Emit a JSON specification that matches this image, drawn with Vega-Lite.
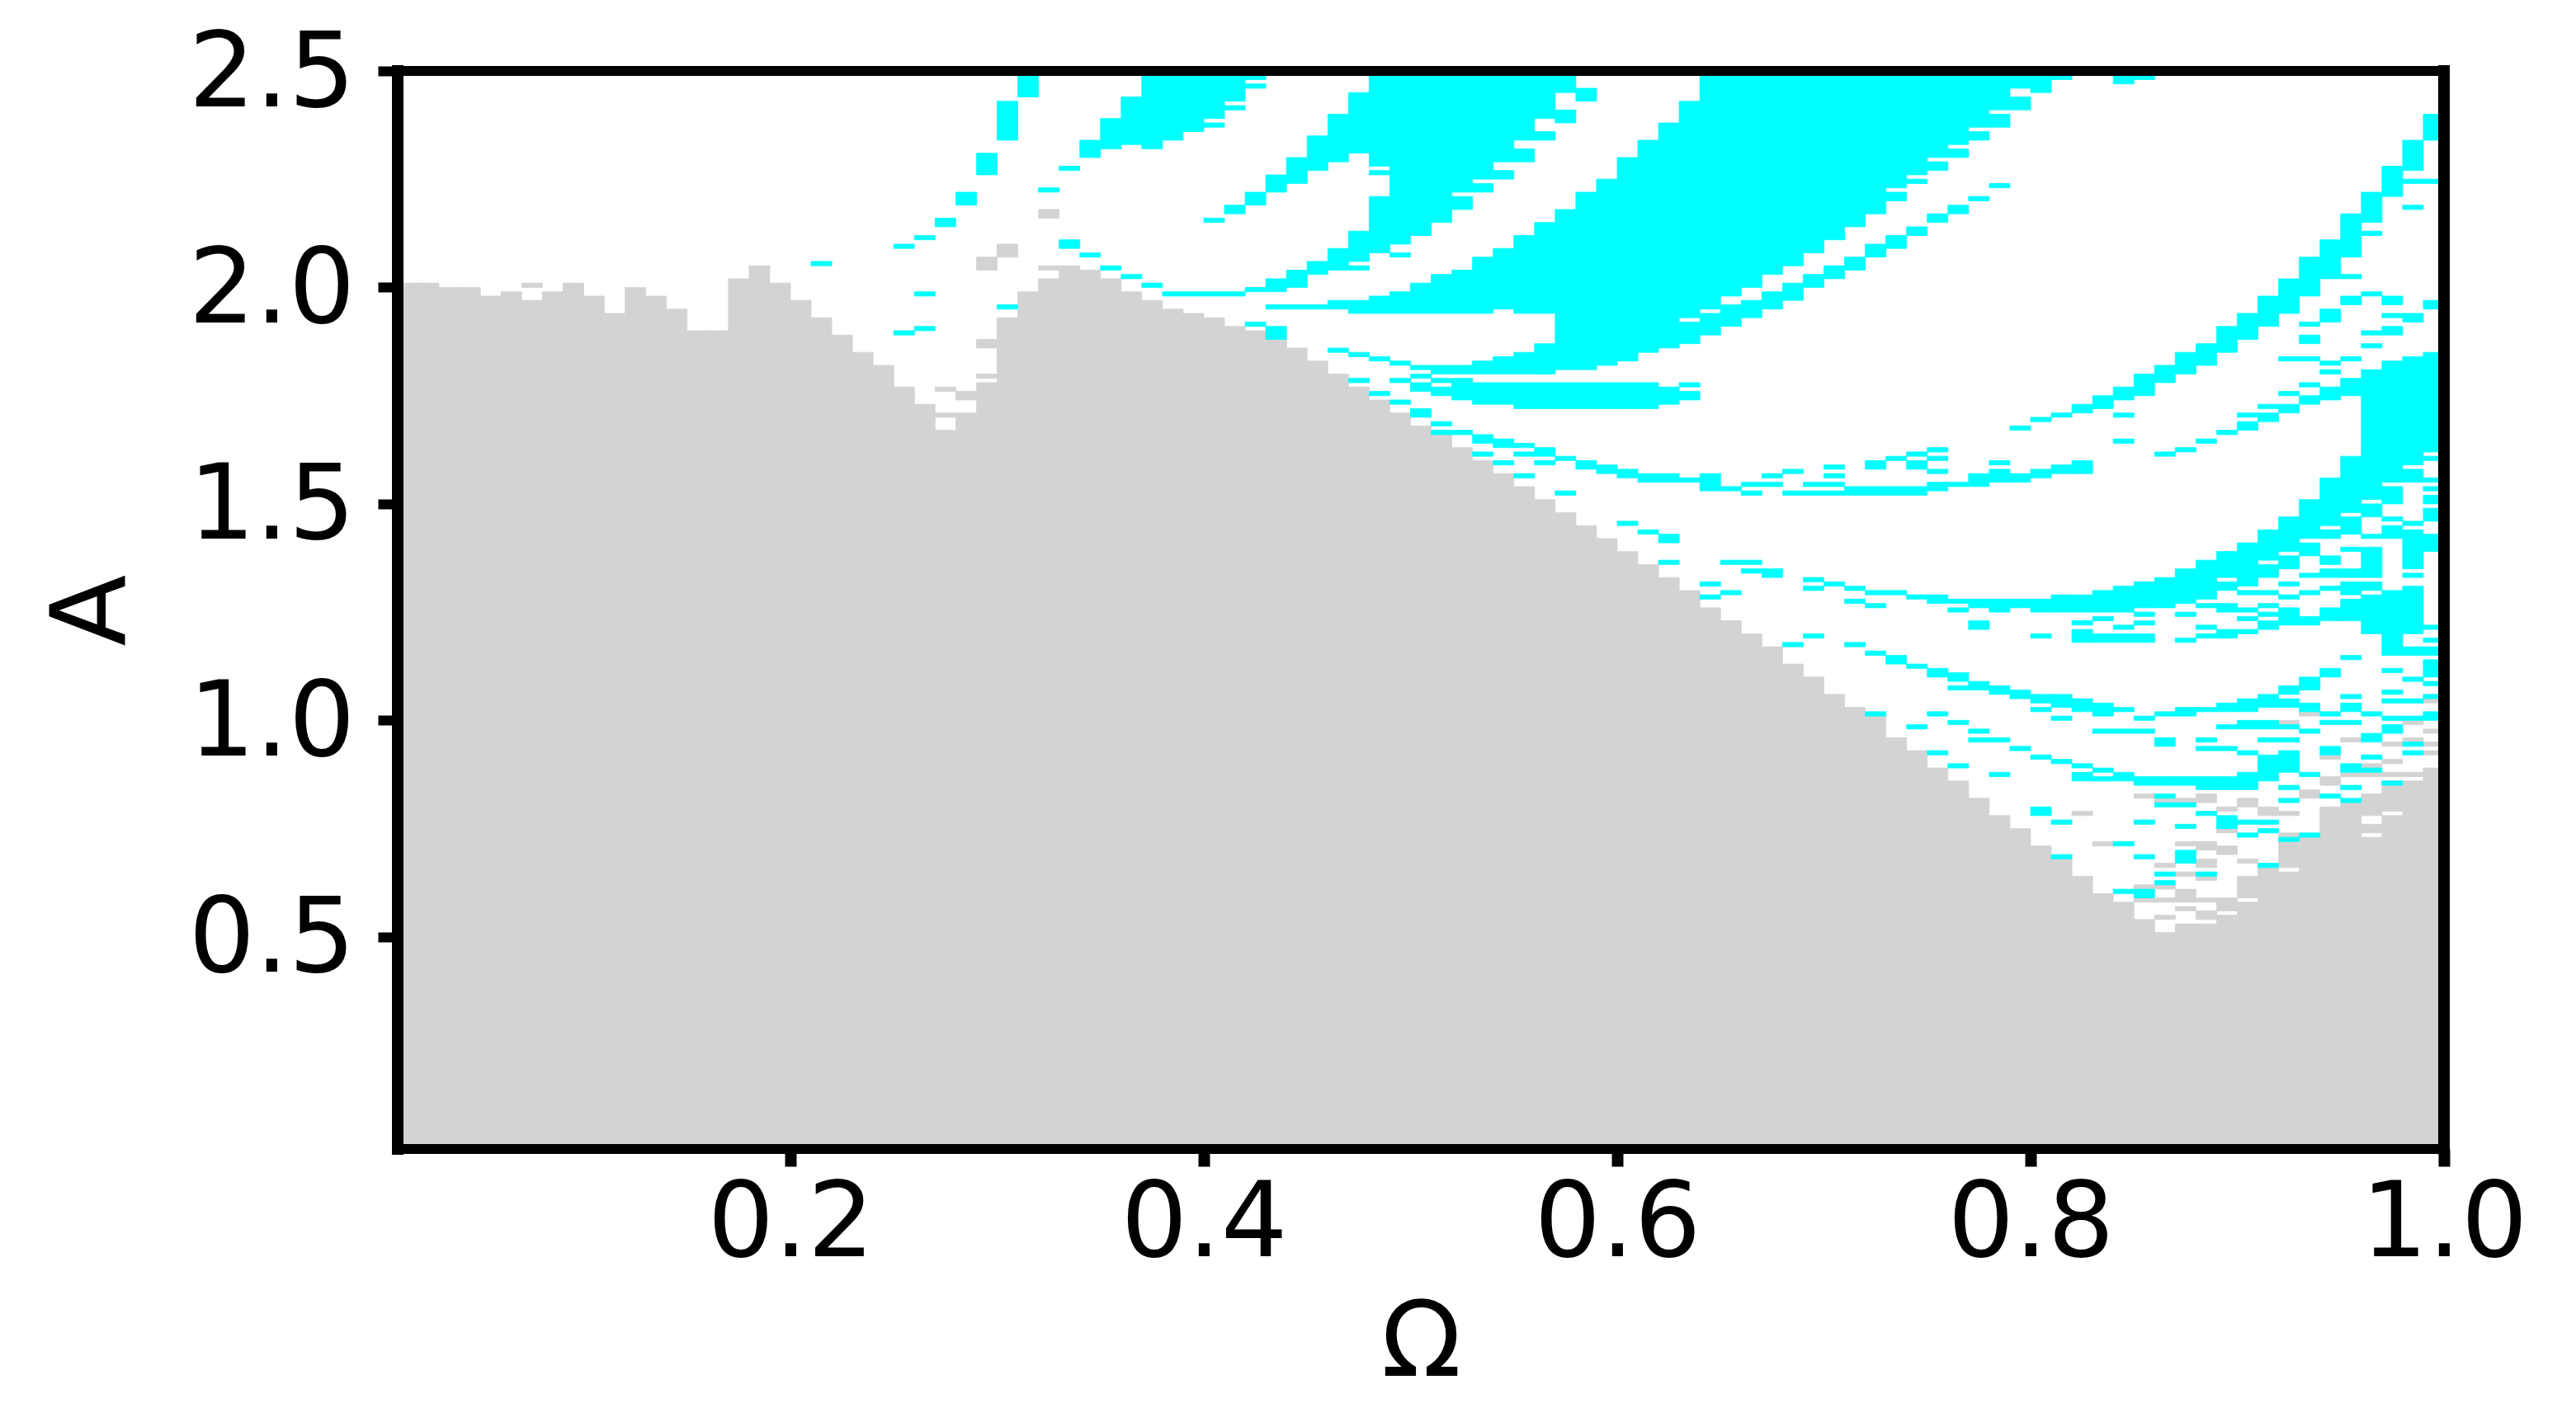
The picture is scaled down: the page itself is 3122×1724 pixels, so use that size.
{"$schema":"https://vega.github.io/schema/vega-lite/v6.json","width":2480,"height":1307,"autosize":"none","padding":{"left":482,"top":86,"right":160,"bottom":331},"background":"white","config":{"view":{"stroke":null},"font":"DejaVu Sans"},
"data":{"values":[
{"w":0.01,"w2":0.02,"a":0.01,"b":2.01,"s":"g"},{"w":0.02,"w2":0.03,"a":0.01,"b":2.01,"s":"g"},{"w":0.03,"w2":0.04,"a":0.01,"b":2.0,"s":"g"},{"w":0.04,"w2":0.05,"a":0.01,"b":2.0,"s":"g"},{"w":0.05,"w2":0.06,"a":0.01,"b":1.98,"s":"g"},{"w":0.06,"w2":0.07,"a":0.01,"b":1.99,"s":"g"},{"w":0.07,"w2":0.08,"a":0.01,"b":1.97,"s":"g"},{"w":0.07,"w2":0.08,"a":2.0,"b":2.01,"s":"g"},{"w":0.08,"w2":0.09,"a":0.01,"b":1.99,"s":"g"},{"w":0.09,"w2":0.1,"a":0.01,"b":2.01,"s":"g"},{"w":0.1,"w2":0.11,"a":0.01,"b":1.98,"s":"g"},{"w":0.11,"w2":0.12,"a":0.01,"b":1.94,"s":"g"},{"w":0.12,"w2":0.13,"a":0.01,"b":2.0,"s":"g"},{"w":0.13,"w2":0.14,"a":0.01,"b":1.98,"s":"g"},{"w":0.14,"w2":0.15,"a":0.01,"b":1.95,"s":"g"},{"w":0.15,"w2":0.16,"a":0.01,"b":1.9,"s":"g"},{"w":0.16,"w2":0.17,"a":0.01,"b":1.9,"s":"g"},{"w":0.17,"w2":0.18,"a":0.01,"b":2.02,"s":"g"},{"w":0.18,"w2":0.19,"a":0.01,"b":2.05,"s":"g"},{"w":0.19,"w2":0.2,"a":0.01,"b":2.01,"s":"g"},{"w":0.2,"w2":0.21,"a":0.01,"b":1.97,"s":"g"},{"w":0.21,"w2":0.22,"a":0.01,"b":1.93,"s":"g"},{"w":0.22,"w2":0.23,"a":0.01,"b":1.89,"s":"g"},{"w":0.23,"w2":0.24,"a":0.01,"b":1.85,"s":"g"},{"w":0.24,"w2":0.25,"a":0.01,"b":1.82,"s":"g"},{"w":0.25,"w2":0.26,"a":0.01,"b":1.77,"s":"g"},{"w":0.26,"w2":0.27,"a":0.01,"b":1.73,"s":"g"},
{"w":0.27,"w2":0.28,"a":0.01,"b":1.67,"s":"g"},{"w":0.27,"w2":0.28,"a":1.7,"b":1.71,"s":"g"},{"w":0.27,"w2":0.28,"a":1.76,"b":1.77,"s":"g"},
{"w":0.28,"w2":0.29,"a":0.01,"b":1.71,"s":"g"},{"w":0.28,"w2":0.29,"a":1.74,"b":1.76,"s":"g"},
{"w":0.29,"w2":0.3,"a":0.01,"b":1.78,"s":"g"},{"w":0.29,"w2":0.3,"a":1.79,"b":1.8,"s":"g"},{"w":0.29,"w2":0.3,"a":1.86,"b":1.88,"s":"g"},{"w":0.29,"w2":0.3,"a":2.04,"b":2.07,"s":"g"},
{"w":0.3,"w2":0.31,"a":0.01,"b":1.93,"s":"g"},{"w":0.3,"w2":0.31,"a":2.07,"b":2.1,"s":"g"},
{"w":0.31,"w2":0.32,"a":0.01,"b":1.99,"s":"g"},
{"w":0.32,"w2":0.33,"a":0.01,"b":2.02,"s":"g"},{"w":0.32,"w2":0.33,"a":2.04,"b":2.05,"s":"g"},{"w":0.32,"w2":0.33,"a":2.16,"b":2.18,"s":"g"},
{"w":0.33,"w2":0.34,"a":0.01,"b":2.05,"s":"g"},{"w":0.34,"w2":0.35,"a":0.01,"b":2.04,"s":"g"},{"w":0.35,"w2":0.36,"a":0.01,"b":2.02,"s":"g"},{"w":0.36,"w2":0.37,"a":0.01,"b":1.99,"s":"g"},{"w":0.37,"w2":0.38,"a":0.01,"b":1.97,"s":"g"},{"w":0.38,"w2":0.39,"a":0.01,"b":1.95,"s":"g"},{"w":0.39,"w2":0.4,"a":0.01,"b":1.94,"s":"g"},{"w":0.4,"w2":0.41,"a":0.01,"b":1.93,"s":"g"},{"w":0.41,"w2":0.42,"a":0.01,"b":1.91,"s":"g"},{"w":0.42,"w2":0.43,"a":0.01,"b":1.9,"s":"g"},{"w":0.43,"w2":0.44,"a":0.01,"b":1.88,"s":"g"},{"w":0.44,"w2":0.45,"a":0.01,"b":1.86,"s":"g"},{"w":0.45,"w2":0.46,"a":0.01,"b":1.83,"s":"g"},{"w":0.46,"w2":0.47,"a":0.01,"b":1.8,"s":"g"},{"w":0.47,"w2":0.48,"a":0.01,"b":1.77,"s":"g"},{"w":0.48,"w2":0.49,"a":0.01,"b":1.74,"s":"g"},{"w":0.49,"w2":0.5,"a":0.01,"b":1.71,"s":"g"},{"w":0.5,"w2":0.51,"a":0.01,"b":1.68,"s":"g"},{"w":0.51,"w2":0.52,"a":0.01,"b":1.66,"s":"g"},{"w":0.52,"w2":0.53,"a":0.01,"b":1.63,"s":"g"},{"w":0.53,"w2":0.54,"a":0.01,"b":1.6,"s":"g"},{"w":0.54,"w2":0.55,"a":0.01,"b":1.57,"s":"g"},{"w":0.55,"w2":0.56,"a":0.01,"b":1.54,"s":"g"},{"w":0.56,"w2":0.57,"a":0.01,"b":1.51,"s":"g"},{"w":0.57,"w2":0.58,"a":0.01,"b":1.48,"s":"g"},{"w":0.58,"w2":0.59,"a":0.01,"b":1.45,"s":"g"},{"w":0.59,"w2":0.6,"a":0.01,"b":1.42,"s":"g"},{"w":0.6,"w2":0.61,"a":0.01,"b":1.39,"s":"g"},{"w":0.61,"w2":0.62,"a":0.01,"b":1.36,"s":"g"},{"w":0.62,"w2":0.63,"a":0.01,"b":1.33,"s":"g"},{"w":0.63,"w2":0.64,"a":0.01,"b":1.3,"s":"g"},{"w":0.64,"w2":0.65,"a":0.01,"b":1.26,"s":"g"},{"w":0.65,"w2":0.66,"a":0.01,"b":1.23,"s":"g"},{"w":0.66,"w2":0.67,"a":0.01,"b":1.2,"s":"g"},{"w":0.67,"w2":0.68,"a":0.01,"b":1.17,"s":"g"},{"w":0.68,"w2":0.69,"a":0.01,"b":1.13,"s":"g"},{"w":0.69,"w2":0.7,"a":0.01,"b":1.1,"s":"g"},{"w":0.7,"w2":0.71,"a":0.01,"b":1.06,"s":"g"},{"w":0.71,"w2":0.72,"a":0.01,"b":1.03,"s":"g"},{"w":0.72,"w2":0.73,"a":0.01,"b":1.01,"s":"g"},{"w":0.73,"w2":0.74,"a":0.01,"b":0.96,"s":"g"},{"w":0.74,"w2":0.75,"a":0.01,"b":0.93,"s":"g"},{"w":0.75,"w2":0.76,"a":0.01,"b":0.89,"s":"g"},{"w":0.76,"w2":0.77,"a":0.01,"b":0.86,"s":"g"},{"w":0.77,"w2":0.78,"a":0.01,"b":0.82,"s":"g"},{"w":0.78,"w2":0.79,"a":0.01,"b":0.78,"s":"g"},{"w":0.79,"w2":0.8,"a":0.01,"b":0.75,"s":"g"},{"w":0.8,"w2":0.81,"a":0.01,"b":0.71,"s":"g"},{"w":0.81,"w2":0.82,"a":0.01,"b":0.68,"s":"g"},{"w":0.82,"w2":0.83,"a":0.01,"b":0.64,"s":"g"},{"w":0.83,"w2":0.84,"a":0.01,"b":0.6,"s":"g"},{"w":0.84,"w2":0.85,"a":0.01,"b":0.58,"s":"g"},
{"w":0.82,"w2":0.83,"a":0.78,"b":0.79,"s":"g"},{"w":0.83,"w2":0.84,"a":0.71,"b":0.72,"s":"g"},
{"w":0.85,"w2":0.86,"a":0.01,"b":0.54,"s":"g"},{"w":0.85,"w2":0.86,"a":0.58,"b":0.59,"s":"g"},{"w":0.85,"w2":0.86,"a":0.61,"b":0.62,"s":"g"},{"w":0.85,"w2":0.86,"a":0.82,"b":0.83,"s":"g"},
{"w":0.86,"w2":0.87,"a":0.01,"b":0.51,"s":"g"},{"w":0.86,"w2":0.87,"a":0.54,"b":0.55,"s":"g"},{"w":0.86,"w2":0.87,"a":0.58,"b":0.59,"s":"g"},{"w":0.86,"w2":0.87,"a":0.61,"b":0.62,"s":"g"},{"w":0.86,"w2":0.87,"a":0.66,"b":0.67,"s":"g"},{"w":0.86,"w2":0.87,"a":0.81,"b":0.82,"s":"g"},
{"w":0.87,"w2":0.88,"a":0.01,"b":0.53,"s":"g"},{"w":0.87,"w2":0.88,"a":0.56,"b":0.57,"s":"g"},{"w":0.87,"w2":0.88,"a":0.58,"b":0.61,"s":"g"},{"w":0.87,"w2":0.88,"a":0.64,"b":0.65,"s":"g"},{"w":0.87,"w2":0.88,"a":0.71,"b":0.72,"s":"g"},{"w":0.87,"w2":0.88,"a":0.81,"b":0.82,"s":"g"},
{"w":0.88,"w2":0.89,"a":0.01,"b":0.53,"s":"g"},{"w":0.88,"w2":0.89,"a":0.54,"b":0.56,"s":"g"},{"w":0.88,"w2":0.89,"a":0.58,"b":0.59,"s":"g"},{"w":0.88,"w2":0.89,"a":0.63,"b":0.64,"s":"g"},{"w":0.88,"w2":0.89,"a":0.66,"b":0.68,"s":"g"},{"w":0.88,"w2":0.89,"a":0.7,"b":0.72,"s":"g"},{"w":0.88,"w2":0.89,"a":0.81,"b":0.83,"s":"g"},
{"w":0.89,"w2":0.9,"a":0.01,"b":0.55,"s":"g"},{"w":0.89,"w2":0.9,"a":0.56,"b":0.59,"s":"g"},{"w":0.89,"w2":0.9,"a":0.69,"b":0.71,"s":"g"},{"w":0.89,"w2":0.9,"a":0.74,"b":0.75,"s":"g"},{"w":0.89,"w2":0.9,"a":0.79,"b":0.8,"s":"g"},
{"w":0.9,"w2":0.91,"a":0.01,"b":0.58,"s":"g"},{"w":0.9,"w2":0.91,"a":0.59,"b":0.64,"s":"g"},{"w":0.9,"w2":0.91,"a":0.67,"b":0.68,"s":"g"},{"w":0.9,"w2":0.91,"a":0.8,"b":0.82,"s":"g"},
{"w":0.91,"w2":0.92,"a":0.01,"b":0.66,"s":"g"},{"w":0.91,"w2":0.92,"a":0.78,"b":0.8,"s":"g"},
{"w":0.92,"w2":0.93,"a":0.01,"b":0.65,"s":"g"},{"w":0.92,"w2":0.93,"a":0.66,"b":0.72,"s":"g"},{"w":0.92,"w2":0.93,"a":0.73,"b":0.74,"s":"g"},{"w":0.92,"w2":0.93,"a":0.78,"b":0.79,"s":"g"},{"w":0.92,"w2":0.93,"a":0.99,"b":1.0,"s":"g"},
{"w":0.93,"w2":0.94,"a":0.01,"b":0.73,"s":"g"},{"w":0.93,"w2":0.94,"a":0.82,"b":0.84,"s":"g"},{"w":0.93,"w2":0.94,"a":1.01,"b":1.02,"s":"g"},
{"w":0.94,"w2":0.95,"a":0.01,"b":0.8,"s":"g"},{"w":0.94,"w2":0.95,"a":0.85,"b":0.87,"s":"g"},{"w":0.94,"w2":0.95,"a":0.91,"b":0.92,"s":"g"},
{"w":0.95,"w2":0.96,"a":0.01,"b":0.81,"s":"g"},{"w":0.95,"w2":0.96,"a":0.87,"b":0.88,"s":"g"},{"w":0.95,"w2":0.96,"a":0.95,"b":0.96,"s":"g"},
{"w":0.96,"w2":0.97,"a":0.01,"b":0.73,"s":"g"},{"w":0.96,"w2":0.97,"a":0.74,"b":0.76,"s":"g"},{"w":0.96,"w2":0.97,"a":0.78,"b":0.83,"s":"g"},{"w":0.96,"w2":0.97,"a":0.87,"b":0.88,"s":"g"},{"w":0.96,"w2":0.97,"a":0.89,"b":0.9,"s":"g"},
{"w":0.97,"w2":0.98,"a":0.01,"b":0.78,"s":"g"},{"w":0.97,"w2":0.98,"a":0.79,"b":0.86,"s":"g"},{"w":0.97,"w2":0.98,"a":0.87,"b":0.88,"s":"g"},{"w":0.97,"w2":0.98,"a":0.9,"b":0.91,"s":"g"},{"w":0.97,"w2":0.98,"a":0.94,"b":0.95,"s":"g"},
{"w":0.98,"w2":0.99,"a":0.01,"b":0.86,"s":"g"},{"w":0.98,"w2":0.99,"a":0.87,"b":0.88,"s":"g"},{"w":0.98,"w2":0.99,"a":0.95,"b":0.96,"s":"g"},{"w":0.98,"w2":0.99,"a":0.99,"b":1.0,"s":"g"},
{"w":0.99,"w2":1.0,"a":0.01,"b":0.89,"s":"g"},{"w":0.99,"w2":1.0,"a":0.92,"b":0.93,"s":"g"},{"w":0.99,"w2":1.0,"a":0.94,"b":0.95,"s":"g"},{"w":0.99,"w2":1.0,"a":0.97,"b":0.98,"s":"g"},{"w":0.99,"w2":1.0,"a":1.04,"b":1.05,"s":"g"},
{"w":0.21,"w2":0.22,"a":2.05,"b":2.06,"s":"c"},
{"w":0.25,"w2":0.26,"a":1.89,"b":1.9,"s":"c"},{"w":0.25,"w2":0.26,"a":2.09,"b":2.1,"s":"c"},
{"w":0.26,"w2":0.27,"a":1.9,"b":1.91,"s":"c"},{"w":0.26,"w2":0.27,"a":1.98,"b":1.99,"s":"c"},{"w":0.26,"w2":0.27,"a":2.11,"b":2.12,"s":"c"},
{"w":0.27,"w2":0.28,"a":2.14,"b":2.16,"s":"c"},
{"w":0.28,"w2":0.29,"a":2.19,"b":2.22,"s":"c"},
{"w":0.29,"w2":0.3,"a":2.26,"b":2.31,"s":"c"},
{"w":0.3,"w2":0.31,"a":1.95,"b":1.96,"s":"c"},{"w":0.3,"w2":0.31,"a":2.34,"b":2.43,"s":"c"},
{"w":0.31,"w2":0.32,"a":2.44,"b":2.5,"s":"c"},
{"w":0.32,"w2":0.33,"a":2.22,"b":2.23,"s":"c"},
{"w":0.33,"w2":0.34,"a":2.09,"b":2.11,"s":"c"},{"w":0.33,"w2":0.34,"a":2.27,"b":2.28,"s":"c"},
{"w":0.34,"w2":0.35,"a":2.07,"b":2.08,"s":"c"},{"w":0.34,"w2":0.35,"a":2.3,"b":2.34,"s":"c"},
{"w":0.35,"w2":0.36,"a":2.04,"b":2.05,"s":"c"},{"w":0.35,"w2":0.36,"a":2.32,"b":2.39,"s":"c"},
{"w":0.36,"w2":0.37,"a":2.02,"b":2.03,"s":"c"},{"w":0.36,"w2":0.37,"a":2.33,"b":2.44,"s":"c"},
{"w":0.37,"w2":0.38,"a":2.0,"b":2.01,"s":"c"},{"w":0.37,"w2":0.38,"a":2.32,"b":2.5,"s":"c"},
{"w":0.38,"w2":0.39,"a":1.98,"b":1.99,"s":"c"},{"w":0.38,"w2":0.39,"a":2.34,"b":2.5,"s":"c"},
{"w":0.39,"w2":0.4,"a":1.98,"b":1.99,"s":"c"},{"w":0.39,"w2":0.4,"a":2.36,"b":2.5,"s":"c"},
{"w":0.4,"w2":0.41,"a":1.98,"b":1.99,"s":"c"},{"w":0.4,"w2":0.41,"a":2.15,"b":2.16,"s":"c"},{"w":0.4,"w2":0.41,"a":2.37,"b":2.38,"s":"c"},{"w":0.4,"w2":0.41,"a":2.39,"b":2.5,"s":"c"},
{"w":0.41,"w2":0.42,"a":1.98,"b":1.99,"s":"c"},{"w":0.41,"w2":0.42,"a":2.17,"b":2.19,"s":"c"},{"w":0.41,"w2":0.42,"a":2.41,"b":2.42,"s":"c"},{"w":0.41,"w2":0.42,"a":2.43,"b":2.5,"s":"c"},
{"w":0.42,"w2":0.43,"a":1.91,"b":1.92,"s":"c"},{"w":0.42,"w2":0.43,"a":1.99,"b":2.0,"s":"c"},{"w":0.42,"w2":0.43,"a":2.19,"b":2.22,"s":"c"},{"w":0.42,"w2":0.43,"a":2.46,"b":2.47,"s":"c"},{"w":0.42,"w2":0.43,"a":2.48,"b":2.5,"s":"c"},
{"w":0.43,"w2":0.44,"a":1.88,"b":1.91,"s":"c"},{"w":0.43,"w2":0.44,"a":1.95,"b":1.96,"s":"c"},{"w":0.43,"w2":0.44,"a":1.99,"b":2.02,"s":"c"},{"w":0.43,"w2":0.44,"a":2.22,"b":2.26,"s":"c"},
{"w":0.44,"w2":0.45,"a":1.95,"b":1.96,"s":"c"},{"w":0.44,"w2":0.45,"a":2.0,"b":2.04,"s":"c"},{"w":0.44,"w2":0.45,"a":2.24,"b":2.3,"s":"c"},
{"w":0.45,"w2":0.46,"a":1.95,"b":1.96,"s":"c"},{"w":0.45,"w2":0.46,"a":2.03,"b":2.06,"s":"c"},{"w":0.45,"w2":0.46,"a":2.27,"b":2.35,"s":"c"},
{"w":0.46,"w2":0.47,"a":1.85,"b":1.86,"s":"c"},{"w":0.46,"w2":0.47,"a":1.95,"b":1.97,"s":"c"},{"w":0.46,"w2":0.47,"a":2.04,"b":2.09,"s":"c"},{"w":0.46,"w2":0.47,"a":2.29,"b":2.4,"s":"c"},
{"w":0.47,"w2":0.48,"a":1.78,"b":1.79,"s":"c"},{"w":0.47,"w2":0.48,"a":1.84,"b":1.85,"s":"c"},{"w":0.47,"w2":0.48,"a":1.94,"b":1.97,"s":"c"},{"w":0.47,"w2":0.48,"a":2.04,"b":2.05,"s":"c"},{"w":0.47,"w2":0.48,"a":2.06,"b":2.13,"s":"c"},{"w":0.47,"w2":0.48,"a":2.31,"b":2.45,"s":"c"},
{"w":0.48,"w2":0.49,"a":1.75,"b":1.76,"s":"c"},{"w":0.48,"w2":0.49,"a":1.83,"b":1.84,"s":"c"},{"w":0.48,"w2":0.49,"a":1.94,"b":1.98,"s":"c"},{"w":0.48,"w2":0.49,"a":2.08,"b":2.21,"s":"c"},{"w":0.48,"w2":0.49,"a":2.26,"b":2.27,"s":"c"},{"w":0.48,"w2":0.49,"a":2.28,"b":2.5,"s":"c"},
{"w":0.49,"w2":0.5,"a":1.73,"b":1.74,"s":"c"},{"w":0.49,"w2":0.5,"a":1.78,"b":1.79,"s":"c"},{"w":0.49,"w2":0.5,"a":1.82,"b":1.83,"s":"c"},{"w":0.49,"w2":0.5,"a":1.94,"b":1.99,"s":"c"},{"w":0.49,"w2":0.5,"a":2.07,"b":2.08,"s":"c"},{"w":0.49,"w2":0.5,"a":2.1,"b":2.5,"s":"c"},
{"w":0.5,"w2":0.51,"a":1.7,"b":1.72,"s":"c"},{"w":0.5,"w2":0.51,"a":1.76,"b":1.78,"s":"c"},{"w":0.5,"w2":0.51,"a":1.79,"b":1.8,"s":"c"},{"w":0.5,"w2":0.51,"a":1.81,"b":1.82,"s":"c"},{"w":0.5,"w2":0.51,"a":1.94,"b":2.01,"s":"c"},{"w":0.5,"w2":0.51,"a":2.12,"b":2.5,"s":"c"},
{"w":0.51,"w2":0.52,"a":1.66,"b":1.67,"s":"c"},{"w":0.51,"w2":0.52,"a":1.68,"b":1.69,"s":"c"},{"w":0.51,"w2":0.52,"a":1.75,"b":1.77,"s":"c"},{"w":0.51,"w2":0.52,"a":1.78,"b":1.79,"s":"c"},{"w":0.51,"w2":0.52,"a":1.8,"b":1.82,"s":"c"},{"w":0.51,"w2":0.52,"a":1.94,"b":2.03,"s":"c"},{"w":0.51,"w2":0.52,"a":2.15,"b":2.5,"s":"c"},
{"w":0.52,"w2":0.53,"a":1.66,"b":1.67,"s":"c"},{"w":0.52,"w2":0.53,"a":1.74,"b":1.79,"s":"c"},{"w":0.52,"w2":0.53,"a":1.8,"b":1.82,"s":"c"},{"w":0.52,"w2":0.53,"a":1.94,"b":2.04,"s":"c"},{"w":0.52,"w2":0.53,"a":2.18,"b":2.21,"s":"c"},{"w":0.52,"w2":0.53,"a":2.22,"b":2.5,"s":"c"},
{"w":0.53,"w2":0.54,"a":1.61,"b":1.62,"s":"c"},{"w":0.53,"w2":0.54,"a":1.64,"b":1.66,"s":"c"},{"w":0.53,"w2":0.54,"a":1.73,"b":1.78,"s":"c"},{"w":0.53,"w2":0.54,"a":1.8,"b":1.83,"s":"c"},{"w":0.53,"w2":0.54,"a":1.94,"b":2.07,"s":"c"},{"w":0.53,"w2":0.54,"a":2.22,"b":2.24,"s":"c"},{"w":0.53,"w2":0.54,"a":2.25,"b":2.5,"s":"c"},
{"w":0.54,"w2":0.55,"a":1.59,"b":1.6,"s":"c"},{"w":0.54,"w2":0.55,"a":1.63,"b":1.65,"s":"c"},{"w":0.54,"w2":0.55,"a":1.73,"b":1.78,"s":"c"},{"w":0.54,"w2":0.55,"a":1.8,"b":1.84,"s":"c"},{"w":0.54,"w2":0.55,"a":1.95,"b":2.09,"s":"c"},{"w":0.54,"w2":0.55,"a":2.25,"b":2.27,"s":"c"},{"w":0.54,"w2":0.55,"a":2.29,"b":2.5,"s":"c"},
{"w":0.55,"w2":0.56,"a":1.56,"b":1.57,"s":"c"},{"w":0.55,"w2":0.56,"a":1.61,"b":1.62,"s":"c"},{"w":0.55,"w2":0.56,"a":1.63,"b":1.64,"s":"c"},{"w":0.55,"w2":0.56,"a":1.72,"b":1.78,"s":"c"},{"w":0.55,"w2":0.56,"a":1.8,"b":1.85,"s":"c"},{"w":0.55,"w2":0.56,"a":1.94,"b":2.12,"s":"c"},{"w":0.55,"w2":0.56,"a":2.29,"b":2.32,"s":"c"},{"w":0.55,"w2":0.56,"a":2.34,"b":2.5,"s":"c"},
{"w":0.56,"w2":0.57,"a":1.59,"b":1.6,"s":"c"},{"w":0.56,"w2":0.57,"a":1.61,"b":1.63,"s":"c"},{"w":0.56,"w2":0.57,"a":1.72,"b":1.78,"s":"c"},{"w":0.56,"w2":0.57,"a":1.8,"b":1.87,"s":"c"},{"w":0.56,"w2":0.57,"a":1.94,"b":2.15,"s":"c"},{"w":0.56,"w2":0.57,"a":2.34,"b":2.36,"s":"c"},{"w":0.56,"w2":0.57,"a":2.39,"b":2.5,"s":"c"},
{"w":0.57,"w2":0.58,"a":1.52,"b":1.53,"s":"c"},{"w":0.57,"w2":0.58,"a":1.6,"b":1.61,"s":"c"},{"w":0.57,"w2":0.58,"a":1.72,"b":1.78,"s":"c"},{"w":0.57,"w2":0.58,"a":1.81,"b":2.18,"s":"c"},{"w":0.57,"w2":0.58,"a":2.38,"b":2.41,"s":"c"},{"w":0.57,"w2":0.58,"a":2.45,"b":2.5,"s":"c"},
{"w":0.58,"w2":0.59,"a":1.58,"b":1.6,"s":"c"},{"w":0.58,"w2":0.59,"a":1.72,"b":1.78,"s":"c"},{"w":0.58,"w2":0.59,"a":1.81,"b":2.22,"s":"c"},{"w":0.58,"w2":0.59,"a":2.43,"b":2.46,"s":"c"},
{"w":0.59,"w2":0.6,"a":1.57,"b":1.59,"s":"c"},{"w":0.59,"w2":0.6,"a":1.72,"b":1.78,"s":"c"},{"w":0.59,"w2":0.6,"a":1.82,"b":2.25,"s":"c"},
{"w":0.6,"w2":0.61,"a":1.45,"b":1.46,"s":"c"},{"w":0.6,"w2":0.61,"a":1.56,"b":1.58,"s":"c"},{"w":0.6,"w2":0.61,"a":1.72,"b":1.78,"s":"c"},{"w":0.6,"w2":0.61,"a":1.83,"b":2.3,"s":"c"},
{"w":0.61,"w2":0.62,"a":1.43,"b":1.44,"s":"c"},{"w":0.61,"w2":0.62,"a":1.55,"b":1.57,"s":"c"},{"w":0.61,"w2":0.62,"a":1.72,"b":1.78,"s":"c"},{"w":0.61,"w2":0.62,"a":1.85,"b":2.34,"s":"c"},
{"w":0.62,"w2":0.63,"a":1.36,"b":1.37,"s":"c"},{"w":0.62,"w2":0.63,"a":1.41,"b":1.43,"s":"c"},{"w":0.62,"w2":0.63,"a":1.55,"b":1.57,"s":"c"},{"w":0.62,"w2":0.63,"a":1.73,"b":1.77,"s":"c"},{"w":0.62,"w2":0.63,"a":1.86,"b":2.38,"s":"c"},
{"w":0.63,"w2":0.64,"a":1.55,"b":1.56,"s":"c"},{"w":0.63,"w2":0.64,"a":1.74,"b":1.76,"s":"c"},{"w":0.63,"w2":0.64,"a":1.77,"b":1.78,"s":"c"},{"w":0.63,"w2":0.64,"a":1.87,"b":1.92,"s":"c"},{"w":0.63,"w2":0.64,"a":1.93,"b":2.43,"s":"c"},
{"w":0.64,"w2":0.65,"a":1.28,"b":1.29,"s":"c"},{"w":0.64,"w2":0.65,"a":1.31,"b":1.32,"s":"c"},{"w":0.64,"w2":0.65,"a":1.53,"b":1.57,"s":"c"},{"w":0.64,"w2":0.65,"a":1.89,"b":1.94,"s":"c"},{"w":0.64,"w2":0.65,"a":1.95,"b":2.5,"s":"c"},
{"w":0.65,"w2":0.66,"a":1.29,"b":1.3,"s":"c"},{"w":0.65,"w2":0.66,"a":1.36,"b":1.37,"s":"c"},{"w":0.65,"w2":0.66,"a":1.53,"b":1.54,"s":"c"},{"w":0.65,"w2":0.66,"a":1.91,"b":1.96,"s":"c"},{"w":0.65,"w2":0.66,"a":1.98,"b":2.5,"s":"c"},
{"w":0.66,"w2":0.67,"a":1.34,"b":1.35,"s":"c"},{"w":0.66,"w2":0.67,"a":1.36,"b":1.37,"s":"c"},{"w":0.66,"w2":0.67,"a":1.52,"b":1.53,"s":"c"},{"w":0.66,"w2":0.67,"a":1.54,"b":1.55,"s":"c"},{"w":0.66,"w2":0.67,"a":1.93,"b":1.97,"s":"c"},{"w":0.66,"w2":0.67,"a":2.0,"b":2.5,"s":"c"},
{"w":0.67,"w2":0.68,"a":1.33,"b":1.35,"s":"c"},{"w":0.67,"w2":0.68,"a":1.54,"b":1.55,"s":"c"},{"w":0.67,"w2":0.68,"a":1.56,"b":1.57,"s":"c"},{"w":0.67,"w2":0.68,"a":1.95,"b":1.99,"s":"c"},{"w":0.67,"w2":0.68,"a":2.03,"b":2.5,"s":"c"},
{"w":0.68,"w2":0.69,"a":1.17,"b":1.18,"s":"c"},{"w":0.68,"w2":0.69,"a":1.52,"b":1.53,"s":"c"},{"w":0.68,"w2":0.69,"a":1.57,"b":1.58,"s":"c"},{"w":0.68,"w2":0.69,"a":1.97,"b":2.01,"s":"c"},{"w":0.68,"w2":0.69,"a":2.05,"b":2.5,"s":"c"},
{"w":0.69,"w2":0.7,"a":1.19,"b":1.2,"s":"c"},{"w":0.69,"w2":0.7,"a":1.3,"b":1.31,"s":"c"},{"w":0.69,"w2":0.7,"a":1.32,"b":1.33,"s":"c"},{"w":0.69,"w2":0.7,"a":1.52,"b":1.53,"s":"c"},{"w":0.69,"w2":0.7,"a":1.54,"b":1.55,"s":"c"},{"w":0.69,"w2":0.7,"a":2.0,"b":2.03,"s":"c"},{"w":0.69,"w2":0.7,"a":2.08,"b":2.5,"s":"c"},
{"w":0.7,"w2":0.71,"a":1.31,"b":1.32,"s":"c"},{"w":0.7,"w2":0.71,"a":1.52,"b":1.53,"s":"c"},{"w":0.7,"w2":0.71,"a":1.54,"b":1.55,"s":"c"},{"w":0.7,"w2":0.71,"a":1.56,"b":1.57,"s":"c"},{"w":0.7,"w2":0.71,"a":1.58,"b":1.59,"s":"c"},{"w":0.7,"w2":0.71,"a":2.02,"b":2.05,"s":"c"},{"w":0.7,"w2":0.71,"a":2.11,"b":2.5,"s":"c"},
{"w":0.71,"w2":0.72,"a":1.17,"b":1.18,"s":"c"},{"w":0.71,"w2":0.72,"a":1.27,"b":1.28,"s":"c"},{"w":0.71,"w2":0.72,"a":1.3,"b":1.31,"s":"c"},{"w":0.71,"w2":0.72,"a":1.52,"b":1.54,"s":"c"},{"w":0.71,"w2":0.72,"a":2.04,"b":2.07,"s":"c"},{"w":0.71,"w2":0.72,"a":2.14,"b":2.5,"s":"c"},
{"w":0.72,"w2":0.73,"a":1.01,"b":1.02,"s":"c"},{"w":0.72,"w2":0.73,"a":1.15,"b":1.16,"s":"c"},{"w":0.72,"w2":0.73,"a":1.26,"b":1.27,"s":"c"},{"w":0.72,"w2":0.73,"a":1.29,"b":1.3,"s":"c"},{"w":0.72,"w2":0.73,"a":1.52,"b":1.54,"s":"c"},{"w":0.72,"w2":0.73,"a":1.58,"b":1.6,"s":"c"},{"w":0.72,"w2":0.73,"a":2.07,"b":2.1,"s":"c"},{"w":0.72,"w2":0.73,"a":2.17,"b":2.5,"s":"c"},
{"w":0.73,"w2":0.74,"a":1.13,"b":1.15,"s":"c"},{"w":0.73,"w2":0.74,"a":1.29,"b":1.3,"s":"c"},{"w":0.73,"w2":0.74,"a":1.52,"b":1.54,"s":"c"},{"w":0.73,"w2":0.74,"a":1.6,"b":1.61,"s":"c"},{"w":0.73,"w2":0.74,"a":2.09,"b":2.12,"s":"c"},{"w":0.73,"w2":0.74,"a":2.2,"b":2.22,"s":"c"},{"w":0.73,"w2":0.74,"a":2.23,"b":2.5,"s":"c"},
{"w":0.74,"w2":0.75,"a":0.98,"b":0.99,"s":"c"},{"w":0.74,"w2":0.75,"a":1.12,"b":1.13,"s":"c"},{"w":0.74,"w2":0.75,"a":1.28,"b":1.29,"s":"c"},{"w":0.74,"w2":0.75,"a":1.52,"b":1.54,"s":"c"},{"w":0.74,"w2":0.75,"a":1.58,"b":1.6,"s":"c"},{"w":0.74,"w2":0.75,"a":1.61,"b":1.62,"s":"c"},{"w":0.74,"w2":0.75,"a":2.12,"b":2.14,"s":"c"},{"w":0.74,"w2":0.75,"a":2.24,"b":2.25,"s":"c"},{"w":0.74,"w2":0.75,"a":2.26,"b":2.5,"s":"c"},
{"w":0.75,"w2":0.76,"a":0.92,"b":0.93,"s":"c"},{"w":0.75,"w2":0.76,"a":1.01,"b":1.02,"s":"c"},{"w":0.75,"w2":0.76,"a":1.1,"b":1.12,"s":"c"},{"w":0.75,"w2":0.76,"a":1.27,"b":1.29,"s":"c"},{"w":0.75,"w2":0.76,"a":1.53,"b":1.55,"s":"c"},{"w":0.75,"w2":0.76,"a":1.57,"b":1.58,"s":"c"},{"w":0.75,"w2":0.76,"a":1.6,"b":1.61,"s":"c"},{"w":0.75,"w2":0.76,"a":1.62,"b":1.63,"s":"c"},{"w":0.75,"w2":0.76,"a":2.15,"b":2.17,"s":"c"},{"w":0.75,"w2":0.76,"a":2.27,"b":2.29,"s":"c"},{"w":0.75,"w2":0.76,"a":2.3,"b":2.5,"s":"c"},
{"w":0.76,"w2":0.77,"a":0.89,"b":0.9,"s":"c"},{"w":0.76,"w2":0.77,"a":0.99,"b":1.0,"s":"c"},{"w":0.76,"w2":0.77,"a":1.07,"b":1.08,"s":"c"},{"w":0.76,"w2":0.77,"a":1.09,"b":1.11,"s":"c"},{"w":0.76,"w2":0.77,"a":1.25,"b":1.26,"s":"c"},{"w":0.76,"w2":0.77,"a":1.27,"b":1.28,"s":"c"},{"w":0.76,"w2":0.77,"a":1.54,"b":1.55,"s":"c"},{"w":0.76,"w2":0.77,"a":2.17,"b":2.19,"s":"c"},{"w":0.76,"w2":0.77,"a":2.3,"b":2.32,"s":"c"},{"w":0.76,"w2":0.77,"a":2.33,"b":2.5,"s":"c"},
{"w":0.77,"w2":0.78,"a":0.95,"b":0.96,"s":"c"},{"w":0.77,"w2":0.78,"a":0.97,"b":0.98,"s":"c"},{"w":0.77,"w2":0.78,"a":1.07,"b":1.09,"s":"c"},{"w":0.77,"w2":0.78,"a":1.21,"b":1.23,"s":"c"},{"w":0.77,"w2":0.78,"a":1.26,"b":1.28,"s":"c"},{"w":0.77,"w2":0.78,"a":1.54,"b":1.57,"s":"c"},{"w":0.77,"w2":0.78,"a":2.2,"b":2.21,"s":"c"},{"w":0.77,"w2":0.78,"a":2.34,"b":2.36,"s":"c"},{"w":0.77,"w2":0.78,"a":2.37,"b":2.5,"s":"c"},
{"w":0.78,"w2":0.79,"a":0.87,"b":0.88,"s":"c"},{"w":0.78,"w2":0.79,"a":0.95,"b":0.96,"s":"c"},{"w":0.78,"w2":0.79,"a":1.06,"b":1.08,"s":"c"},{"w":0.78,"w2":0.79,"a":1.25,"b":1.28,"s":"c"},{"w":0.78,"w2":0.79,"a":1.55,"b":1.58,"s":"c"},{"w":0.78,"w2":0.79,"a":1.59,"b":1.6,"s":"c"},{"w":0.78,"w2":0.79,"a":2.23,"b":2.24,"s":"c"},{"w":0.78,"w2":0.79,"a":2.37,"b":2.4,"s":"c"},{"w":0.78,"w2":0.79,"a":2.41,"b":2.5,"s":"c"},
{"w":0.79,"w2":0.8,"a":0.93,"b":0.94,"s":"c"},{"w":0.79,"w2":0.8,"a":1.05,"b":1.07,"s":"c"},{"w":0.79,"w2":0.8,"a":1.26,"b":1.28,"s":"c"},{"w":0.79,"w2":0.8,"a":1.55,"b":1.57,"s":"c"},{"w":0.79,"w2":0.8,"a":1.67,"b":1.68,"s":"c"},{"w":0.79,"w2":0.8,"a":2.41,"b":2.44,"s":"c"},{"w":0.79,"w2":0.8,"a":2.46,"b":2.5,"s":"c"},
{"w":0.8,"w2":0.81,"a":0.78,"b":0.8,"s":"c"},{"w":0.8,"w2":0.81,"a":0.91,"b":0.92,"s":"c"},{"w":0.8,"w2":0.81,"a":1.02,"b":1.03,"s":"c"},{"w":0.8,"w2":0.81,"a":1.04,"b":1.06,"s":"c"},{"w":0.8,"w2":0.81,"a":1.19,"b":1.2,"s":"c"},{"w":0.8,"w2":0.81,"a":1.25,"b":1.28,"s":"c"},{"w":0.8,"w2":0.81,"a":1.56,"b":1.58,"s":"c"},{"w":0.8,"w2":0.81,"a":1.69,"b":1.7,"s":"c"},{"w":0.8,"w2":0.81,"a":2.45,"b":2.5,"s":"c"},
{"w":0.81,"w2":0.82,"a":0.68,"b":0.69,"s":"c"},{"w":0.81,"w2":0.82,"a":0.76,"b":0.77,"s":"c"},{"w":0.81,"w2":0.82,"a":0.9,"b":0.91,"s":"c"},{"w":0.81,"w2":0.82,"a":1.0,"b":1.01,"s":"c"},{"w":0.81,"w2":0.82,"a":1.03,"b":1.06,"s":"c"},{"w":0.81,"w2":0.82,"a":1.25,"b":1.29,"s":"c"},{"w":0.81,"w2":0.82,"a":1.57,"b":1.59,"s":"c"},{"w":0.81,"w2":0.82,"a":1.7,"b":1.71,"s":"c"},{"w":0.81,"w2":0.82,"a":2.48,"b":2.5,"s":"c"},
{"w":0.82,"w2":0.83,"a":0.86,"b":0.88,"s":"c"},{"w":0.82,"w2":0.83,"a":0.89,"b":0.9,"s":"c"},{"w":0.82,"w2":0.83,"a":1.02,"b":1.05,"s":"c"},{"w":0.82,"w2":0.83,"a":1.18,"b":1.21,"s":"c"},{"w":0.82,"w2":0.83,"a":1.22,"b":1.23,"s":"c"},{"w":0.82,"w2":0.83,"a":1.25,"b":1.29,"s":"c"},{"w":0.82,"w2":0.83,"a":1.57,"b":1.6,"s":"c"},{"w":0.82,"w2":0.83,"a":1.71,"b":1.73,"s":"c"},
{"w":0.83,"w2":0.84,"a":0.86,"b":0.87,"s":"c"},{"w":0.83,"w2":0.84,"a":0.88,"b":0.89,"s":"c"},{"w":0.83,"w2":0.84,"a":0.97,"b":0.98,"s":"c"},{"w":0.83,"w2":0.84,"a":1.01,"b":1.04,"s":"c"},{"w":0.83,"w2":0.84,"a":1.18,"b":1.2,"s":"c"},{"w":0.83,"w2":0.84,"a":1.23,"b":1.24,"s":"c"},{"w":0.83,"w2":0.84,"a":1.25,"b":1.3,"s":"c"},{"w":0.83,"w2":0.84,"a":1.72,"b":1.75,"s":"c"},
{"w":0.84,"w2":0.85,"a":0.6,"b":0.61,"s":"c"},{"w":0.84,"w2":0.85,"a":0.71,"b":0.72,"s":"c"},{"w":0.84,"w2":0.85,"a":0.86,"b":0.88,"s":"c"},{"w":0.84,"w2":0.85,"a":0.97,"b":0.98,"s":"c"},{"w":0.84,"w2":0.85,"a":1.02,"b":1.03,"s":"c"},{"w":0.84,"w2":0.85,"a":1.18,"b":1.2,"s":"c"},{"w":0.84,"w2":0.85,"a":1.21,"b":1.22,"s":"c"},{"w":0.84,"w2":0.85,"a":1.25,"b":1.31,"s":"c"},{"w":0.84,"w2":0.85,"a":1.64,"b":1.65,"s":"c"},{"w":0.84,"w2":0.85,"a":1.7,"b":1.71,"s":"c"},{"w":0.84,"w2":0.85,"a":1.74,"b":1.77,"s":"c"},{"w":0.84,"w2":0.85,"a":2.47,"b":2.5,"s":"c"},
{"w":0.85,"w2":0.86,"a":0.59,"b":0.61,"s":"c"},{"w":0.85,"w2":0.86,"a":0.68,"b":0.69,"s":"c"},{"w":0.85,"w2":0.86,"a":0.76,"b":0.77,"s":"c"},{"w":0.85,"w2":0.86,"a":0.85,"b":0.87,"s":"c"},{"w":0.85,"w2":0.86,"a":0.97,"b":0.98,"s":"c"},{"w":0.85,"w2":0.86,"a":1.0,"b":1.01,"s":"c"},{"w":0.85,"w2":0.86,"a":1.18,"b":1.2,"s":"c"},{"w":0.85,"w2":0.86,"a":1.22,"b":1.23,"s":"c"},{"w":0.85,"w2":0.86,"a":1.24,"b":1.25,"s":"c"},{"w":0.85,"w2":0.86,"a":1.26,"b":1.32,"s":"c"},{"w":0.85,"w2":0.86,"a":1.75,"b":1.8,"s":"c"},{"w":0.85,"w2":0.86,"a":2.48,"b":2.5,"s":"c"},
{"w":0.86,"w2":0.87,"a":0.62,"b":0.63,"s":"c"},{"w":0.86,"w2":0.87,"a":0.64,"b":0.65,"s":"c"},{"w":0.86,"w2":0.87,"a":0.8,"b":0.81,"s":"c"},{"w":0.86,"w2":0.87,"a":0.82,"b":0.83,"s":"c"},{"w":0.86,"w2":0.87,"a":0.85,"b":0.87,"s":"c"},{"w":0.86,"w2":0.87,"a":0.94,"b":0.96,"s":"c"},{"w":0.86,"w2":0.87,"a":1.01,"b":1.02,"s":"c"},{"w":0.86,"w2":0.87,"a":1.26,"b":1.33,"s":"c"},{"w":0.86,"w2":0.87,"a":1.61,"b":1.62,"s":"c"},{"w":0.86,"w2":0.87,"a":1.78,"b":1.82,"s":"c"},
{"w":0.87,"w2":0.88,"a":0.67,"b":0.7,"s":"c"},{"w":0.87,"w2":0.88,"a":0.75,"b":0.76,"s":"c"},{"w":0.87,"w2":0.88,"a":0.8,"b":0.81,"s":"c"},{"w":0.87,"w2":0.88,"a":0.85,"b":0.87,"s":"c"},{"w":0.87,"w2":0.88,"a":1.01,"b":1.03,"s":"c"},{"w":0.87,"w2":0.88,"a":1.18,"b":1.19,"s":"c"},{"w":0.87,"w2":0.88,"a":1.24,"b":1.25,"s":"c"},{"w":0.87,"w2":0.88,"a":1.27,"b":1.35,"s":"c"},{"w":0.87,"w2":0.88,"a":1.62,"b":1.63,"s":"c"},{"w":0.87,"w2":0.88,"a":1.8,"b":1.85,"s":"c"},
{"w":0.88,"w2":0.89,"a":0.64,"b":0.65,"s":"c"},{"w":0.88,"w2":0.89,"a":0.78,"b":0.79,"s":"c"},{"w":0.88,"w2":0.89,"a":0.84,"b":0.87,"s":"c"},{"w":0.88,"w2":0.89,"a":0.93,"b":0.94,"s":"c"},{"w":0.88,"w2":0.89,"a":0.95,"b":0.96,"s":"c"},{"w":0.88,"w2":0.89,"a":1.02,"b":1.03,"s":"c"},{"w":0.88,"w2":0.89,"a":1.19,"b":1.2,"s":"c"},{"w":0.88,"w2":0.89,"a":1.21,"b":1.22,"s":"c"},{"w":0.88,"w2":0.89,"a":1.26,"b":1.27,"s":"c"},{"w":0.88,"w2":0.89,"a":1.28,"b":1.37,"s":"c"},{"w":0.88,"w2":0.89,"a":1.64,"b":1.65,"s":"c"},{"w":0.88,"w2":0.89,"a":1.82,"b":1.87,"s":"c"},
{"w":0.89,"w2":0.9,"a":0.75,"b":0.78,"s":"c"},{"w":0.89,"w2":0.9,"a":0.84,"b":0.87,"s":"c"},{"w":0.89,"w2":0.9,"a":0.93,"b":0.94,"s":"c"},{"w":0.89,"w2":0.9,"a":0.98,"b":0.99,"s":"c"},{"w":0.89,"w2":0.9,"a":1.02,"b":1.04,"s":"c"},{"w":0.89,"w2":0.9,"a":1.19,"b":1.21,"s":"c"},{"w":0.89,"w2":0.9,"a":1.25,"b":1.27,"s":"c"},{"w":0.89,"w2":0.9,"a":1.3,"b":1.32,"s":"c"},{"w":0.89,"w2":0.9,"a":1.33,"b":1.39,"s":"c"},{"w":0.89,"w2":0.9,"a":1.66,"b":1.67,"s":"c"},{"w":0.89,"w2":0.9,"a":1.85,"b":1.91,"s":"c"},
{"w":0.9,"w2":0.91,"a":0.73,"b":0.74,"s":"c"},{"w":0.9,"w2":0.91,"a":0.76,"b":0.77,"s":"c"},{"w":0.9,"w2":0.91,"a":0.84,"b":0.88,"s":"c"},{"w":0.9,"w2":0.91,"a":0.92,"b":0.93,"s":"c"},{"w":0.9,"w2":0.91,"a":0.98,"b":1.0,"s":"c"},{"w":0.9,"w2":0.91,"a":1.02,"b":1.05,"s":"c"},{"w":0.9,"w2":0.91,"a":1.2,"b":1.21,"s":"c"},{"w":0.9,"w2":0.91,"a":1.23,"b":1.24,"s":"c"},{"w":0.9,"w2":0.91,"a":1.25,"b":1.26,"s":"c"},{"w":0.9,"w2":0.91,"a":1.29,"b":1.3,"s":"c"},{"w":0.9,"w2":0.91,"a":1.31,"b":1.41,"s":"c"},{"w":0.9,"w2":0.91,"a":1.67,"b":1.69,"s":"c"},{"w":0.9,"w2":0.91,"a":1.7,"b":1.71,"s":"c"},{"w":0.9,"w2":0.91,"a":1.88,"b":1.94,"s":"c"},
{"w":0.91,"w2":0.92,"a":0.66,"b":0.67,"s":"c"},{"w":0.91,"w2":0.92,"a":0.74,"b":0.75,"s":"c"},{"w":0.91,"w2":0.92,"a":0.76,"b":0.77,"s":"c"},{"w":0.91,"w2":0.92,"a":0.86,"b":0.92,"s":"c"},{"w":0.91,"w2":0.92,"a":0.95,"b":0.96,"s":"c"},{"w":0.91,"w2":0.92,"a":0.98,"b":1.0,"s":"c"},{"w":0.91,"w2":0.92,"a":1.03,"b":1.06,"s":"c"},{"w":0.91,"w2":0.92,"a":1.21,"b":1.23,"s":"c"},{"w":0.91,"w2":0.92,"a":1.24,"b":1.25,"s":"c"},{"w":0.91,"w2":0.92,"a":1.26,"b":1.27,"s":"c"},{"w":0.91,"w2":0.92,"a":1.29,"b":1.3,"s":"c"},{"w":0.91,"w2":0.92,"a":1.33,"b":1.36,"s":"c"},{"w":0.91,"w2":0.92,"a":1.37,"b":1.44,"s":"c"},{"w":0.91,"w2":0.92,"a":1.69,"b":1.71,"s":"c"},{"w":0.91,"w2":0.92,"a":1.72,"b":1.73,"s":"c"},{"w":0.91,"w2":0.92,"a":1.91,"b":1.98,"s":"c"},
{"w":0.92,"w2":0.93,"a":0.72,"b":0.73,"s":"c"},{"w":0.92,"w2":0.93,"a":0.81,"b":0.82,"s":"c"},{"w":0.92,"w2":0.93,"a":0.84,"b":0.85,"s":"c"},{"w":0.92,"w2":0.93,"a":0.88,"b":0.93,"s":"c"},{"w":0.92,"w2":0.93,"a":0.95,"b":0.96,"s":"c"},{"w":0.92,"w2":0.93,"a":0.98,"b":0.99,"s":"c"},{"w":0.92,"w2":0.93,"a":1.03,"b":1.05,"s":"c"},{"w":0.92,"w2":0.93,"a":1.06,"b":1.08,"s":"c"},{"w":0.92,"w2":0.93,"a":1.22,"b":1.26,"s":"c"},{"w":0.92,"w2":0.93,"a":1.28,"b":1.29,"s":"c"},{"w":0.92,"w2":0.93,"a":1.31,"b":1.32,"s":"c"},{"w":0.92,"w2":0.93,"a":1.35,"b":1.38,"s":"c"},{"w":0.92,"w2":0.93,"a":1.39,"b":1.47,"s":"c"},{"w":0.92,"w2":0.93,"a":1.71,"b":1.73,"s":"c"},{"w":0.92,"w2":0.93,"a":1.75,"b":1.76,"s":"c"},{"w":0.92,"w2":0.93,"a":1.83,"b":1.84,"s":"c"},{"w":0.92,"w2":0.93,"a":1.94,"b":2.02,"s":"c"},
{"w":0.93,"w2":0.94,"a":0.73,"b":0.74,"s":"c"},{"w":0.93,"w2":0.94,"a":0.87,"b":0.88,"s":"c"},{"w":0.93,"w2":0.94,"a":0.97,"b":0.98,"s":"c"},{"w":0.93,"w2":0.94,"a":1.02,"b":1.04,"s":"c"},{"w":0.93,"w2":0.94,"a":1.07,"b":1.1,"s":"c"},{"w":0.93,"w2":0.94,"a":1.22,"b":1.24,"s":"c"},{"w":0.93,"w2":0.94,"a":1.29,"b":1.3,"s":"c"},{"w":0.93,"w2":0.94,"a":1.33,"b":1.34,"s":"c"},{"w":0.93,"w2":0.94,"a":1.38,"b":1.41,"s":"c"},{"w":0.93,"w2":0.94,"a":1.42,"b":1.51,"s":"c"},{"w":0.93,"w2":0.94,"a":1.73,"b":1.75,"s":"c"},{"w":0.93,"w2":0.94,"a":1.77,"b":1.78,"s":"c"},{"w":0.93,"w2":0.94,"a":1.83,"b":1.84,"s":"c"},{"w":0.93,"w2":0.94,"a":1.87,"b":1.89,"s":"c"},{"w":0.93,"w2":0.94,"a":1.91,"b":1.92,"s":"c"},{"w":0.93,"w2":0.94,"a":1.98,"b":2.07,"s":"c"},
{"w":0.94,"w2":0.95,"a":0.82,"b":0.83,"s":"c"},{"w":0.94,"w2":0.95,"a":0.92,"b":0.94,"s":"c"},{"w":0.94,"w2":0.95,"a":0.99,"b":1.0,"s":"c"},{"w":0.94,"w2":0.95,"a":1.01,"b":1.02,"s":"c"},{"w":0.94,"w2":0.95,"a":1.1,"b":1.12,"s":"c"},{"w":0.94,"w2":0.95,"a":1.23,"b":1.26,"s":"c"},{"w":0.94,"w2":0.95,"a":1.3,"b":1.31,"s":"c"},{"w":0.94,"w2":0.95,"a":1.33,"b":1.35,"s":"c"},{"w":0.94,"w2":0.95,"a":1.36,"b":1.38,"s":"c"},{"w":0.94,"w2":0.95,"a":1.42,"b":1.44,"s":"c"},{"w":0.94,"w2":0.95,"a":1.45,"b":1.56,"s":"c"},{"w":0.94,"w2":0.95,"a":1.74,"b":1.77,"s":"c"},{"w":0.94,"w2":0.95,"a":1.8,"b":1.81,"s":"c"},{"w":0.94,"w2":0.95,"a":1.82,"b":1.83,"s":"c"},{"w":0.94,"w2":0.95,"a":1.92,"b":1.95,"s":"c"},{"w":0.94,"w2":0.95,"a":2.02,"b":2.11,"s":"c"},
{"w":0.95,"w2":0.96,"a":0.81,"b":0.82,"s":"c"},{"w":0.95,"w2":0.96,"a":0.84,"b":0.85,"s":"c"},{"w":0.95,"w2":0.96,"a":0.88,"b":0.9,"s":"c"},{"w":0.95,"w2":0.96,"a":0.99,"b":1.0,"s":"c"},{"w":0.95,"w2":0.96,"a":1.02,"b":1.04,"s":"c"},{"w":0.95,"w2":0.96,"a":1.05,"b":1.06,"s":"c"},{"w":0.95,"w2":0.96,"a":1.14,"b":1.15,"s":"c"},{"w":0.95,"w2":0.96,"a":1.23,"b":1.28,"s":"c"},{"w":0.95,"w2":0.96,"a":1.29,"b":1.32,"s":"c"},{"w":0.95,"w2":0.96,"a":1.33,"b":1.35,"s":"c"},{"w":0.95,"w2":0.96,"a":1.39,"b":1.4,"s":"c"},{"w":0.95,"w2":0.96,"a":1.43,"b":1.47,"s":"c"},{"w":0.95,"w2":0.96,"a":1.48,"b":1.61,"s":"c"},{"w":0.95,"w2":0.96,"a":1.75,"b":1.79,"s":"c"},{"w":0.95,"w2":0.96,"a":1.83,"b":1.84,"s":"c"},{"w":0.95,"w2":0.96,"a":1.96,"b":1.98,"s":"c"},{"w":0.95,"w2":0.96,"a":2.02,"b":2.03,"s":"c"},{"w":0.95,"w2":0.96,"a":2.07,"b":2.17,"s":"c"},
{"w":0.96,"w2":0.97,"a":0.88,"b":0.89,"s":"c"},{"w":0.96,"w2":0.97,"a":0.91,"b":0.92,"s":"c"},{"w":0.96,"w2":0.97,"a":0.95,"b":0.97,"s":"c"},{"w":0.96,"w2":0.97,"a":1.01,"b":1.02,"s":"c"},{"w":0.96,"w2":0.97,"a":1.2,"b":1.29,"s":"c"},{"w":0.96,"w2":0.97,"a":1.3,"b":1.32,"s":"c"},{"w":0.96,"w2":0.97,"a":1.33,"b":1.4,"s":"c"},{"w":0.96,"w2":0.97,"a":1.42,"b":1.43,"s":"c"},{"w":0.96,"w2":0.97,"a":1.47,"b":1.5,"s":"c"},{"w":0.96,"w2":0.97,"a":1.51,"b":1.81,"s":"c"},{"w":0.96,"w2":0.97,"a":1.86,"b":1.87,"s":"c"},{"w":0.96,"w2":0.97,"a":1.89,"b":1.9,"s":"c"},{"w":0.96,"w2":0.97,"a":1.98,"b":1.99,"s":"c"},{"w":0.96,"w2":0.97,"a":2.12,"b":2.13,"s":"c"},{"w":0.96,"w2":0.97,"a":2.15,"b":2.22,"s":"c"},
{"w":0.97,"w2":0.98,"a":0.85,"b":0.86,"s":"c"},{"w":0.97,"w2":0.98,"a":0.97,"b":0.99,"s":"c"},{"w":0.97,"w2":0.98,"a":1.0,"b":1.01,"s":"c"},{"w":0.97,"w2":0.98,"a":1.04,"b":1.05,"s":"c"},{"w":0.97,"w2":0.98,"a":1.06,"b":1.07,"s":"c"},{"w":0.97,"w2":0.98,"a":1.11,"b":1.12,"s":"c"},{"w":0.97,"w2":0.98,"a":1.15,"b":1.3,"s":"c"},{"w":0.97,"w2":0.98,"a":1.42,"b":1.45,"s":"c"},{"w":0.97,"w2":0.98,"a":1.46,"b":1.47,"s":"c"},{"w":0.97,"w2":0.98,"a":1.5,"b":1.54,"s":"c"},{"w":0.97,"w2":0.98,"a":1.55,"b":1.83,"s":"c"},{"w":0.97,"w2":0.98,"a":1.89,"b":1.91,"s":"c"},{"w":0.97,"w2":0.98,"a":1.93,"b":1.94,"s":"c"},{"w":0.97,"w2":0.98,"a":1.96,"b":1.98,"s":"c"},{"w":0.97,"w2":0.98,"a":2.21,"b":2.28,"s":"c"},
{"w":0.98,"w2":0.99,"a":0.92,"b":0.93,"s":"c"},{"w":0.98,"w2":0.99,"a":0.94,"b":0.95,"s":"c"},{"w":0.98,"w2":0.99,"a":1.0,"b":1.01,"s":"c"},{"w":0.98,"w2":0.99,"a":1.04,"b":1.05,"s":"c"},{"w":0.98,"w2":0.99,"a":1.09,"b":1.1,"s":"c"},{"w":0.98,"w2":0.99,"a":1.15,"b":1.17,"s":"c"},{"w":0.98,"w2":0.99,"a":1.2,"b":1.31,"s":"c"},{"w":0.98,"w2":0.99,"a":1.33,"b":1.34,"s":"c"},{"w":0.98,"w2":0.99,"a":1.35,"b":1.44,"s":"c"},{"w":0.98,"w2":0.99,"a":1.45,"b":1.46,"s":"c"},{"w":0.98,"w2":0.99,"a":1.55,"b":1.58,"s":"c"},{"w":0.98,"w2":0.99,"a":1.59,"b":1.84,"s":"c"},{"w":0.98,"w2":0.99,"a":1.92,"b":1.94,"s":"c"},{"w":0.98,"w2":0.99,"a":2.18,"b":2.19,"s":"c"},{"w":0.98,"w2":0.99,"a":2.24,"b":2.25,"s":"c"},{"w":0.98,"w2":0.99,"a":2.27,"b":2.34,"s":"c"},
{"w":0.99,"w2":1.0,"a":1.0,"b":1.02,"s":"c"},{"w":0.99,"w2":1.0,"a":1.05,"b":1.06,"s":"c"},{"w":0.99,"w2":1.0,"a":1.08,"b":1.09,"s":"c"},{"w":0.99,"w2":1.0,"a":1.1,"b":1.14,"s":"c"},{"w":0.99,"w2":1.0,"a":1.15,"b":1.17,"s":"c"},{"w":0.99,"w2":1.0,"a":1.18,"b":1.19,"s":"c"},{"w":0.99,"w2":1.0,"a":1.21,"b":1.22,"s":"c"},{"w":0.99,"w2":1.0,"a":1.39,"b":1.43,"s":"c"},{"w":0.99,"w2":1.0,"a":1.46,"b":1.49,"s":"c"},{"w":0.99,"w2":1.0,"a":1.5,"b":1.52,"s":"c"},{"w":0.99,"w2":1.0,"a":1.53,"b":1.54,"s":"c"},{"w":0.99,"w2":1.0,"a":1.55,"b":1.56,"s":"c"},{"w":0.99,"w2":1.0,"a":1.6,"b":1.61,"s":"c"},{"w":0.99,"w2":1.0,"a":1.62,"b":1.85,"s":"c"},{"w":0.99,"w2":1.0,"a":1.95,"b":1.97,"s":"c"},{"w":0.99,"w2":1.0,"a":2.24,"b":2.25,"s":"c"},{"w":0.99,"w2":1.0,"a":2.34,"b":2.4,"s":"c"}
]},
"layer":[
{"mark":{"type":"rect","strokeWidth":0.8},
"encoding":{
"x":{"field":"w","type":"quantitative","scale":{"domain":[0.01,1.0],"nice":false,"zero":false},"axis":{"values":[0.2,0.4,0.6,0.8,1.0],"format":".1f","title":"Ω","grid":false,"domain":false,"tickColor":"black","tickSize":21,"tickWidth":14,"labelFont":"DejaVu Sans","labelFontSize":127,"labelColor":"black","labelPadding":8,"labelLimit":0,"labelOverlap":false,"labelFlush":false,"titleFont":"DejaVu Sans","titleFontSize":127,"titleFontWeight":"normal","titleColor":"black","titlePadding":20}},
"x2":{"field":"w2"},
"y":{"field":"a","type":"quantitative","scale":{"domain":[0.01,2.5],"nice":false,"zero":false},"axis":{"values":[0.5,1.0,1.5,2.0,2.5],"format":".1f","title":"A","grid":false,"domain":false,"tickColor":"black","tickSize":24,"tickWidth":12,"labelFont":"DejaVu Sans","labelFontSize":127,"labelColor":"black","labelPadding":28,"labelOffset":4,"labelLimit":0,"labelOverlap":false,"titleFont":"DejaVu Sans","titleFontSize":127,"titleFontWeight":"normal","titleColor":"black","titlePadding":104}},
"y2":{"field":"b"},
"color":{"field":"s","type":"nominal","scale":{"domain":["g","c"],"range":["#d3d3d3","#00ffff"]},"legend":null},
"stroke":{"field":"s","type":"nominal","scale":{"domain":["g","c"],"range":["#d3d3d3","#00ffff"]},"legend":null}
}},
{"mark":{"type":"rule","color":"black","strokeWidth":11,"strokeCap":"square"},"encoding":{"y":{"datum":2.5,"type":"quantitative"}}},
{"mark":{"type":"rule","color":"black","strokeWidth":11,"strokeCap":"square"},"encoding":{"y":{"datum":0.01,"type":"quantitative"}}},
{"mark":{"type":"rule","color":"black","strokeWidth":14,"strokeCap":"square"},"encoding":{"x":{"datum":0.01,"type":"quantitative"}}},
{"mark":{"type":"rule","color":"black","strokeWidth":14,"strokeCap":"square"},"encoding":{"x":{"datum":1.0,"type":"quantitative"}}}
]}
